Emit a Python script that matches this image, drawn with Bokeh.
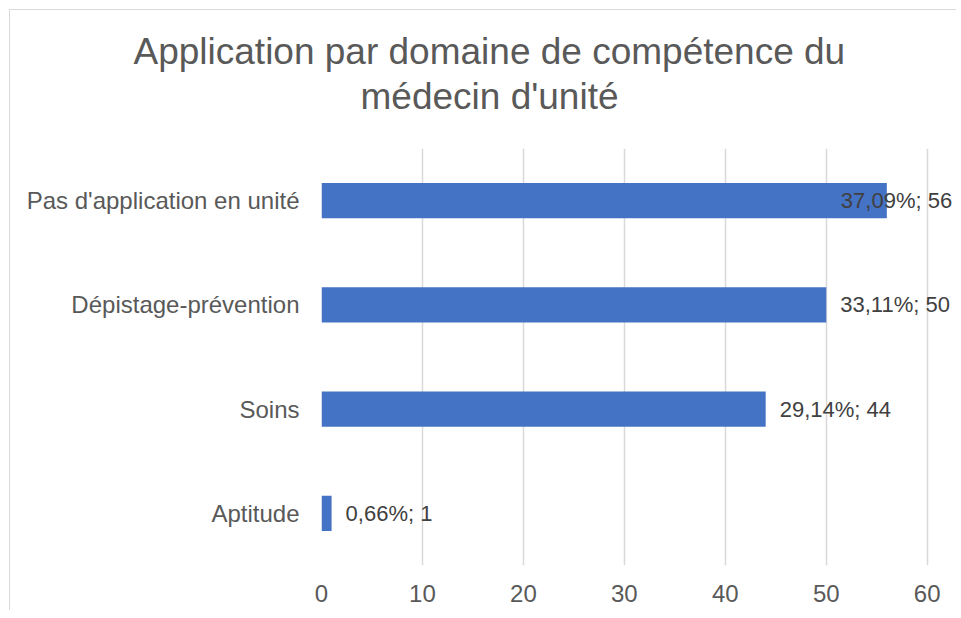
from bokeh.plotting import figure
from bokeh.models import ColumnDataSource, FactorRange, Range1d, FixedTicker, Title
from bokeh.core.properties import value
from bokeh.embed import file_html
from bokeh.resources import INLINE

# ---- data ----
categories = ["Pas d'application en unité", "Dépistage-prévention", "Soins", "Aptitude"]
counts = [56, 50, 44, 1]
percents = ["37,09%", "33,11%", "29,14%", "0,66%"]
x_ticks = [0, 10, 20, 30, 40, 50, 60]
title_lines = ["Application par domaine de compétence du", "médecin d'unité"]

# ---- styling ----
label_offsets = [-46, 14, 14, 14]
FONT = "Liberation Sans"
GREY = "#595959"
BAR = "#4472C4"

labels = [f"{p}; {c}" for p, c in zip(percents, counts)]
source = ColumnDataSource(dict(cat=categories, val=counts, lab=labels, off=label_offsets))

p = figure(
    width=947, height=601,
    y_range=FactorRange(factors=categories[::-1]),
    x_range=Range1d(0, 63),
    output_backend="svg", toolbar_location=None,
    min_border_left=311, min_border_right=0, min_border_top=138, min_border_bottom=46,
    styles={"border-left": "1px solid #d9d9d9", "border-top": "1px solid #d9d9d9",
            "margin-left": "9px", "margin-top": "9px"},
)

p.hbar(y="cat", right="val", left=0, height=0.34, source=source,
       fill_color=BAR, line_color=None)

p.text(x="val", y="cat", text="lab", source=source, x_offset="off",
       text_font=value(FONT), text_font_size="22px", text_color="#404040",
       text_baseline="middle", text_align="left")

# titles (second line added first so it sits closest to the plot)
t2 = Title(text=title_lines[1], align="left", offset=39,
           text_font=FONT, text_font_size="37px", text_font_style="normal",
           text_color=GREY, standoff=63)
t1 = Title(text=title_lines[0], align="left", offset=-188,
           text_font=FONT, text_font_size="37px", text_font_style="normal",
           text_color=GREY, standoff=-59)
p.add_layout(t2, "above")
p.add_layout(t1, "above")

p.outline_line_color = None
p.ygrid.grid_line_color = None
p.xgrid.grid_line_color = "#d9d9d9"
p.xgrid.grid_line_width = 1.5
p.xaxis.ticker = FixedTicker(ticks=x_ticks)

for ax in (p.xaxis, p.yaxis):
    ax.axis_line_color = None
    ax.major_tick_line_color = None
    ax.minor_tick_line_color = None
    ax.major_label_text_font = FONT
    ax.major_label_text_font_size = "24px"
    ax.major_label_text_color = GREY

p.yaxis.major_label_standoff = 16
p.xaxis.major_label_standoff = 13

open("out.html", "w").write(file_html(p, INLINE))
